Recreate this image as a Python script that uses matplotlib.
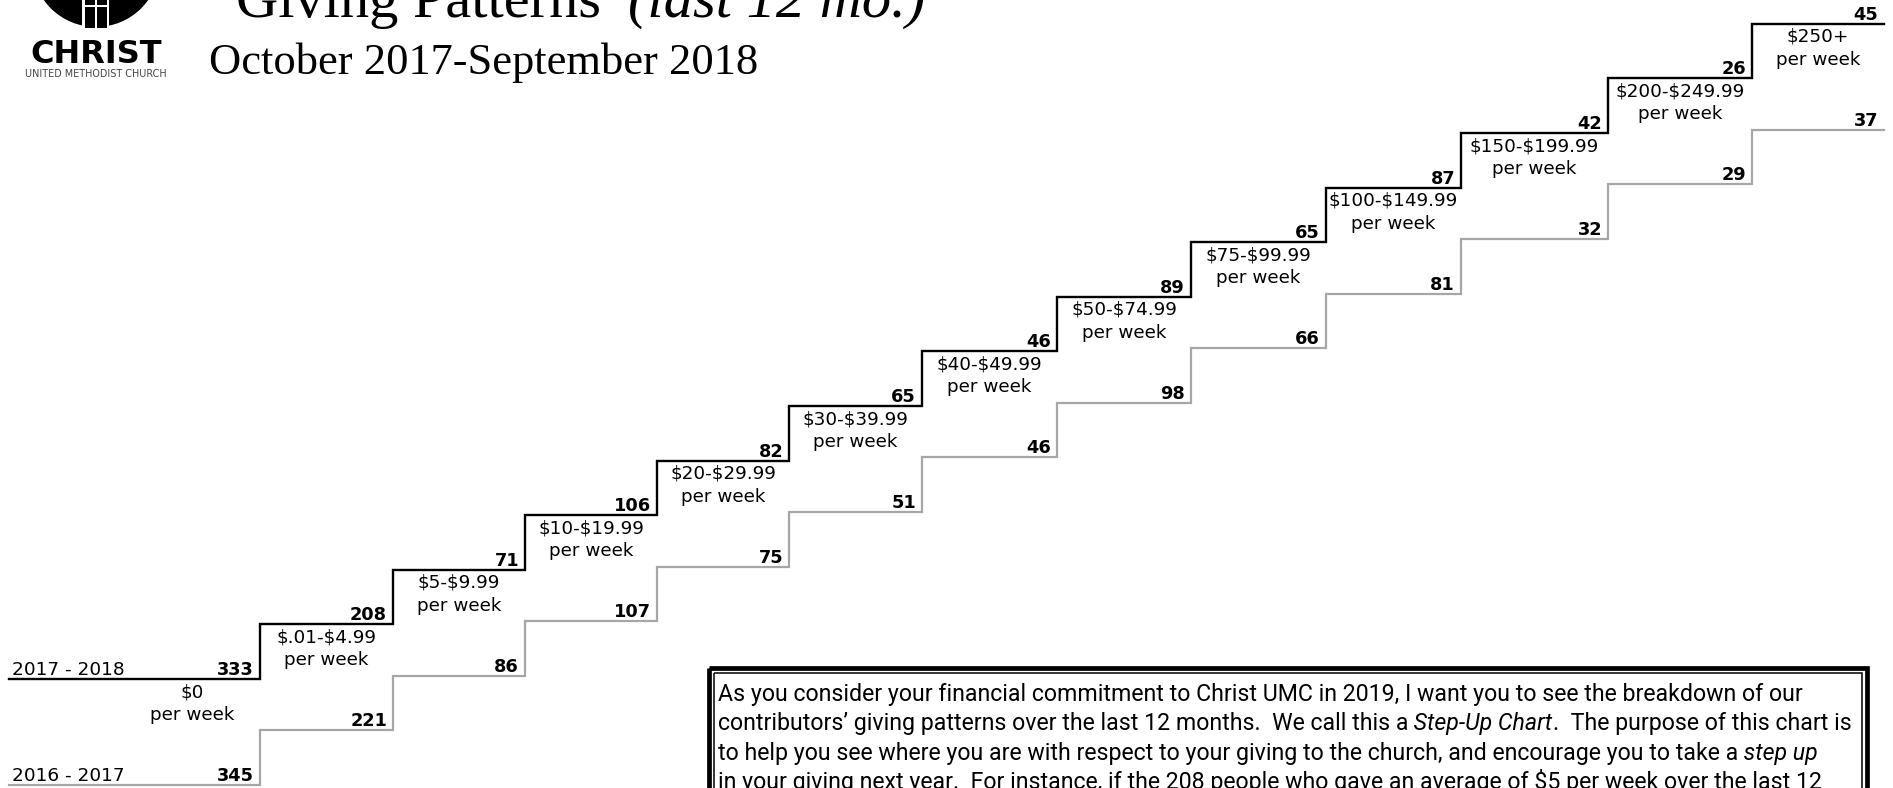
import matplotlib
matplotlib.use('Agg')
import matplotlib.pyplot as plt
from matplotlib.patches import Circle, Rectangle

# ---- data ----
ranges = ['$0', '$.01-$4.99', '$5-$9.99', '$10-$19.99', '$20-$29.99', '$30-$39.99',
          '$40-$49.99', '$50-$74.99', '$75-$99.99', '$100-$149.99', '$150-$199.99',
          '$200-$249.99', '$250+']
givers_2018 = [333, 208, 71, 106, 82, 65, 46, 89, 65, 87, 42, 26, 45]
givers_2017 = [345, 221, 86, 107, 75, 51, 46, 98, 66, 81, 32, 29, 37]
year_labels = ['2017 - 2018', '2016 - 2017']

title = 'Giving Patterns '
title_it = '(last 12 mo.)'
subtitle = 'October 2017-September 2018'

box_lines = [
    [('As you consider your financial commitment to Christ UMC in 2019, I want you to see the breakdown of our', 'normal')],
    [('contributors\u2019 giving patterns over the last 12 months.  We call this a', 'normal'),
     (' Step-Up Chart', 'italic'), ('.  The purpose of this chart is', 'normal')],
    [('to help you see where you are with respect to your giving to the church, and encourage you to take a', 'normal'),
     (' step up', 'italic')],
    [('in your giving next year.  For instance, if the 208 people who gave an average of $5 per week over the last 12', 'normal')],
]

# ---- layout (pixels) ----
W, H = 1893, 788
edges = [260, 393, 525, 657, 789, 922, 1057, 1191, 1326, 1461, 1608, 1752]
x_start, x_end = 9, 1884
label_left0 = 124
rise = 54.6
base_new, base_old = 679, 785
box_font = 'Roboto'

fig = plt.figure(figsize=(W / 100, H / 100), dpi=100)
ax = fig.add_axes([0, 0, 1, 1])
ax.set_xlim(0, W)
ax.set_ylim(H, 0)
ax.axis('off')
renderer = fig.canvas.get_renderer()

xs = [x_start] + edges + [x_end]
n = len(ranges)


def levels(base):
    lv = [base - i * rise for i in range(n)]
    return lv + [lv[-1]]


for base, counts, col, lw, ylab in [(base_old, givers_2017, '#a6a6a6', 1.6, year_labels[1]),
                                     (base_new, givers_2018, 'black', 1.7, year_labels[0])]:
    lv = levels(base)
    ax.plot(xs, lv, drawstyle='steps-post', color=col, lw=lw, solid_joinstyle='miter')
    for i, c in enumerate(counts):
        ax.text(xs[i + 1] - 6, lv[i] - 4, str(c), ha='right', va='baseline',
                fontsize=12.8, fontweight='bold', family='DejaVu Sans')
    ax.text(12, lv[0] - 4, ylab, ha='left', va='baseline', fontsize=13.3, family='DejaVu Sans')

# range labels under the black steps
lv = levels(base_new)
for i, r in enumerate(ranges):
    left = label_left0 if i == 0 else xs[i]
    cx = (left + xs[i + 1]) / 2
    ax.text(cx, lv[i] + 18, r, ha='center', va='baseline', fontsize=13.2,
            family='DejaVu Sans', parse_math=False)
    ax.text(cx, lv[i] + 41, 'per week', ha='center', va='baseline', fontsize=13.2,
            family='DejaVu Sans')

# ---- logo ----
ax.add_patch(Circle((96, -37), 64, color='black', lw=0))
ax.add_patch(Rectangle((82, -2), 27, 32, color='white', lw=0))
ax.add_patch(Rectangle((84.5, 0), 22, 27.5, color='black', lw=0))
ax.add_patch(Rectangle((94.5, 0), 2, 28, color='white', lw=0))
ax.add_patch(Rectangle((84.5, 5), 22, 2, color='white', lw=0))
ax.text(96, 63, 'CHRIST', ha='center', va='baseline', fontsize=23, fontweight='bold',
        family='DejaVu Sans')
ax.text(96, 77, 'UNITED METHODIST CHURCH', ha='center', va='baseline', fontsize=6.9,
        color='#444444', family='DejaVu Sans')

# ---- title ----
t = ax.text(236, 17, title, ha='left', va='baseline', fontsize=42, family='Liberation Serif')
bb = t.get_window_extent(renderer)
ax.text(236 + bb.width + 12, 17, title_it, ha='left', va='baseline', fontsize=42,
        style='italic', family='Liberation Serif')
ax.text(209, 74, subtitle, ha='left', va='baseline', fontsize=32, family='Liberation Serif')

# ---- text box ----
ax.add_patch(Rectangle((708.5, 668), 1866.5 - 708.5, 200, fill=False, ec='black', lw=3.4))
ax.add_patch(Rectangle((713.5, 673), 1861.5 - 713.5, 200, fill=False, ec='black', lw=1.1))


def draw_line(x, y, segs, size):
    for seg, sty in segs:
        tt = ax.text(x, y, seg, ha='left', va='baseline', fontsize=size, style=sty,
                     family=box_font, parse_math=False)
        x += tt.get_window_extent(renderer).width
    return x


probe_end = draw_line(0, -500, box_lines[1], 10)
fs = 10 * 1132 / probe_end
for t_ in ax.texts[-len(box_lines[1]):]:
    t_.remove()

for k, line in enumerate(box_lines):
    draw_line(718, 701 + k * 29.3, line, fs)

fig.savefig('out.png', dpi=100)
